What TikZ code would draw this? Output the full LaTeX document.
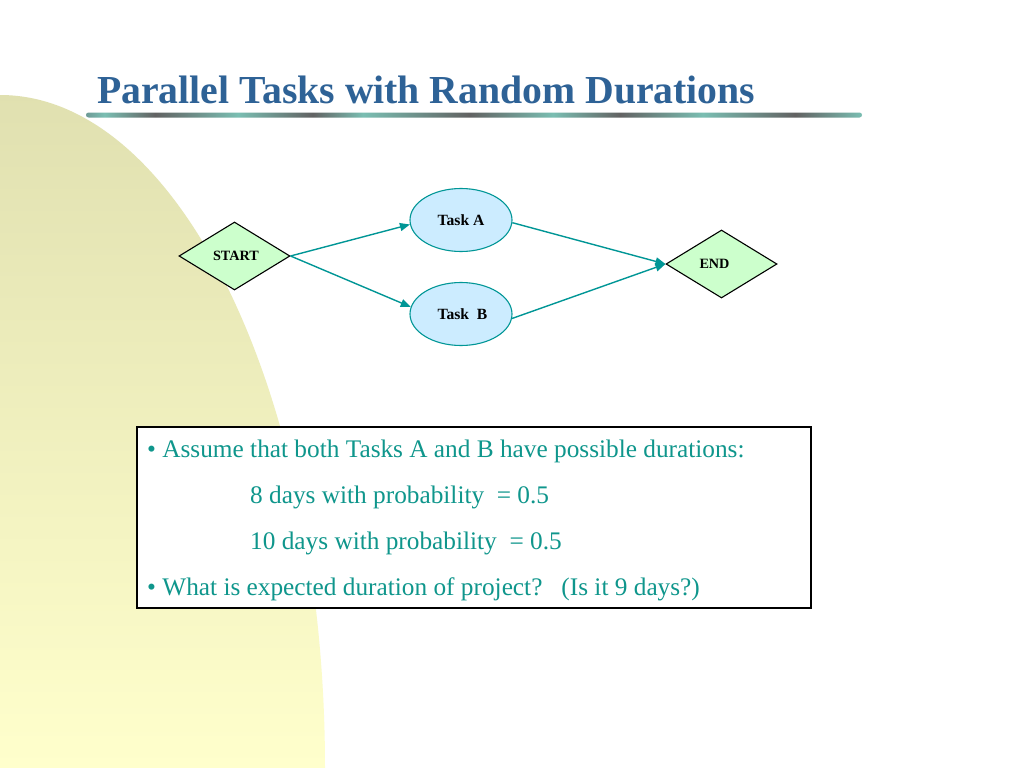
\documentclass[tikz,border=0pt]{standalone}
\usepackage{fontspec}
\setmainfont{Liberation Serif}
\usetikzlibrary{shapes.geometric,arrows.meta}
\definecolor{titleblue}{RGB}{46,98,150}
\definecolor{tealtxt}{RGB}{15,150,140}
\definecolor{arrowteal}{RGB}{0,150,150}
\definecolor{bargrey}{RGB}{98,98,98}
\definecolor{barteal}{RGB}{122,190,178}
\definecolor{barmid}{RGB}{110,155,150}
\definecolor{bgtop}{RGB}{224,224,176}
\definecolor{bgbot}{RGB}{255,255,204}
\definecolor{diagreen}{RGB}{204,255,204}
\definecolor{ellblue}{RGB}{204,236,255}
\pgfdeclarehorizontalshading{titlebar}{100bp}{%
color(0bp)=(barmid); color(25bp)=(barmid); color(26.2bp)=(barteal);
color(29.45bp)=(bargrey); color(34.8bp)=(barteal); color(39.6bp)=(bargrey);
color(42.85bp)=(barteal); color(49.7bp)=(bargrey); color(55.1bp)=(barteal);
color(59.4bp)=(bargrey); color(64.75bp)=(barteal); color(70.7bp)=(bargrey);
color(75bp)=(barteal); color(100bp)=(barteal)}
\begin{document}
\begin{tikzpicture}[x=1bp,y=-1bp,
  startend/.style={diamond, draw=black, line width=1.1bp, fill=diagreen,
    minimum width=111bp, minimum height=68bp, inner sep=0pt,
    font=\fontsize{14.2bp}{16bp}\selectfont\bfseries},
  task/.style={ellipse, draw=arrowteal, line width=1.1bp, fill=ellblue,
    minimum width=102bp, minimum height=63bp, inner sep=0pt,
    font=\fontsize{15.6bp}{18bp}\selectfont\bfseries},
  conn/.style={draw=arrowteal, line width=1.4bp,
    -{Triangle[length=10bp,width=8bp]}},
  bodytext/.style={anchor=base west, inner sep=0pt, text=tealtxt,
    font=\fontsize{25.3bp}{30bp}\selectfont}]
\useasboundingbox (0,0) rectangle (1024,768);
\fill[white] (0,0) rectangle (1024,768);
% background arc
\begin{scope}
  \clip (0,768) ellipse [x radius=325, y radius=673];
  \shade[top color=bgtop, bottom color=bgbot] (0,90) rectangle (330,768);
\end{scope}
% title
\node[anchor=base west, inner sep=0pt, text=titleblue,
  font=\fontsize{39.7bp}{44bp}\selectfont\bfseries] (title) at (97,103)
  {Parallel Tasks with Random Durations};
\shade[shading=titlebar, rounded corners=2.5bp] (86,112.5) rectangle (862,117.5);
% diagram
\node[startend] (S) at (234.5,256) {\hspace*{3bp}START};
\node[startend] (E) at (721.5,264) {END\hspace*{14bp}};
\node[task] (A) at (461,220) {Task A};
\node[task] (B) at (461,314) {\hspace*{3bp}Task\ \ B};
\draw[conn] (S.east) -- (A.185);
\draw[conn] (S.east) -- (B.172);
\draw[conn] (A.357) -- (E.west);
\draw[conn] (B.355) -- (E.west);
% text box
\node[draw=black, line width=1.5bp, fill=white, minimum width=674bp,
  minimum height=181bp, inner sep=0pt] (box) at (474,517.5) {};
\node[bodytext] (l1) at (147,457) {• Assume that both Tasks A and B have possible durations:};
\node[bodytext] (l2) at (250,503) {8 days with probability\ \ = 0.5};
\node[bodytext] (l3) at (250,549) {10 days with probability\ \ = 0.5};
\node[bodytext] (l4) at (147,595) {• What is expected duration of project?\ \ \ (Is it 9 days?)};
\end{tikzpicture}
\end{document}
